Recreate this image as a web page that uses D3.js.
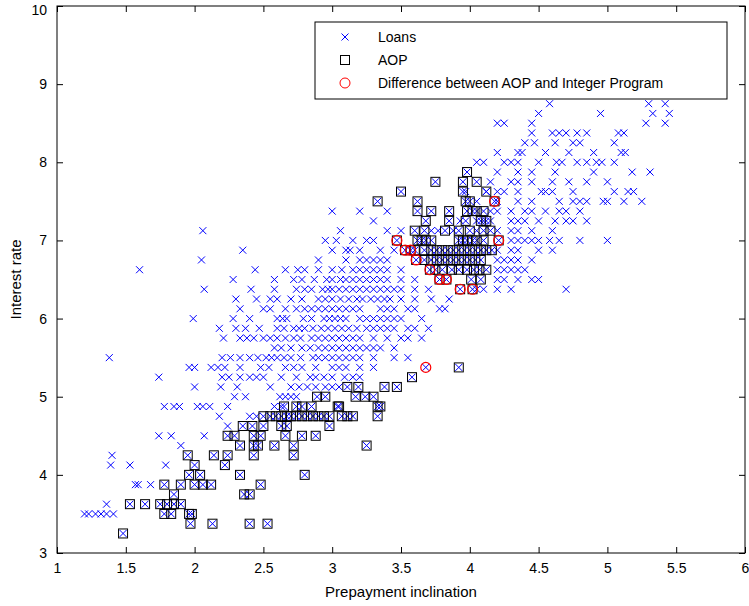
<!DOCTYPE html>
<html><head><meta charset="utf-8">
<script src="https://cdn.jsdelivr.net/npm/d3@7"></script>
<style>body{margin:0;background:#fff}text{font-family:"Liberation Sans",Arial,sans-serif}</style>
</head><body><svg id="c" width="749" height="606"></svg>
<script>
const xTicks = [1,1.5,2,2.5,3,3.5,4,4.5,5,5.5,6];
const yTicks = [3,4,5,6,7,8,9,10];
const legendLabels = ["Loans","AOP","Difference between AOP and Integer Program"];

const loanRates = [8.75,8.625,8.5,8.375,8.25,8.125,8.0,7.875,7.75,7.625,7.5,7.375,7.25,7.125,7.0,6.875,6.75,6.625,6.5,6.375,6.25,6.125,6.0,5.875,5.75,5.625,5.5,5.375,5.25,5.125,5.0,4.875,4.75,4.625,4.5,4.375,4.25,4.125,3.875,3.625,3.5];
const loanX = [
[4.58,5.3,5.42],
[4.5,4.95,5.33,5.45],
[4.2,4.25,4.45,5.28,5.42],
[4.45,4.6,4.65,4.7,4.78,4.85,5.08,5.12],
[4.4,4.47,4.62,4.75,4.8,5.05],
[4.2,4.35,4.38,4.55,4.72,4.9,5.1,5.13],
[4.05,4.1,4.25,4.3,4.35,4.5,4.63,4.67,4.78,4.85,4.92,4.96,5.05],
[4.2,4.35,4.45,4.62,4.9,5.18,5.31],
[4.15,4.3,4.35,4.45,4.6,4.72,4.85,5.0],
[3.97,4.12,4.2,4.25,4.35,4.52,4.55,4.6,4.75,5.05,5.15,5.19],
[4.05,4.2,4.35,4.45,4.65,4.75,4.8,4.85,4.97,5.0,5.12,5.25],
[3.0,3.2,3.4,4.15,4.2,4.3,4.4,4.45,4.55,4.65,4.7,4.8],
[3.3,3.93,4.05,4.1,4.15,4.3,4.35,4.4,4.5,4.62,4.7,4.75,4.85],
[2.06,3.06,3.4,3.5,3.72,3.77,3.88,4.05,4.2,4.3,4.35,4.45,4.6],
[2.95,3.03,3.15,3.25,3.3,4.3,4.35,4.4,4.45,4.5,4.58,4.65,4.8,5.0],
[2.35,3.0,3.1,3.13,3.2,3.35,3.45,4.2,4.3,4.35,4.5,4.6],
[2.05,2.9,3.1,3.2,3.25,3.3,3.35,3.4,4.2,4.25,4.3,4.35,4.45],
[1.6,2.44,2.66,2.75,2.8,2.9,3.0,3.07,3.15,3.2,3.25,3.3,3.35,3.4,3.5,4.2,4.25,4.3,4.35,4.4],
[2.28,2.58,2.72,2.78,2.87,2.96,3.0,3.06,3.1,3.15,3.2,3.25,3.3,3.35,3.4,3.5,3.6,4.2,4.25,4.35,4.45,4.5],
[2.07,2.41,2.58,2.74,2.8,2.85,2.93,2.97,3.0,3.05,3.1,3.15,3.2,3.25,3.3,3.35,3.4,3.45,3.5,3.6,3.7,4.05,4.1,4.2,4.3,4.7],
[2.3,2.45,2.55,2.6,2.7,2.78,2.9,2.95,3.0,3.06,3.12,3.18,3.22,3.28,3.33,3.38,3.42,3.5,3.6,3.72,3.85],
[2.33,2.5,2.55,2.66,2.74,2.8,2.85,2.9,2.95,3.0,3.05,3.1,3.15,3.2,3.35,3.4,3.45,3.55,3.6,3.78,3.82],
[1.99,2.28,2.4,2.6,2.64,2.67,2.79,2.85,2.94,2.98,3.02,3.06,3.1,3.2,3.25,3.3,3.35,3.4,3.45,3.5,3.65],
[2.18,2.3,2.37,2.47,2.6,2.65,2.72,2.76,2.8,2.86,2.92,2.97,3.02,3.07,3.12,3.18,3.25,3.3,3.35,3.4,3.45,3.55,3.6,3.7],
[2.21,2.33,2.38,2.43,2.5,2.55,2.6,2.66,2.72,2.77,2.85,2.9,2.95,3.0,3.05,3.1,3.15,3.2,3.3,3.4,3.5,3.55,3.65],
[2.58,2.63,2.7,2.78,2.84,2.9,2.95,3.0,3.05,3.1,3.15,3.2,3.25,3.3,3.35,3.45],
[1.38,2.2,2.26,2.33,2.4,2.46,2.52,2.56,2.6,2.65,2.7,2.77,2.86,2.9,2.95,3.0,3.05,3.1,3.15,3.2,3.3,3.45,3.55],
[1.96,2.0,2.12,2.17,2.22,2.33,2.48,2.54,2.66,2.72,2.78,2.88,3.0,3.05,3.1,3.2,3.3,3.68],
[1.74,2.2,2.25,2.33,2.4,2.45,2.5,2.63,2.74,2.84,2.88,2.94,3.0,3.09,3.15,3.2],
[2.0,2.19,2.31,2.55,2.7,2.76,2.82,2.88,2.95,3.0,3.05],
[2.29,2.37,2.62,2.66,2.7,2.74],
[1.78,1.85,1.89,2.02,2.06,2.11,2.24,2.58,2.63],
[2.18,2.4,2.45],
[2.24],
[1.74,1.83,2.07],
[1.9],
[1.4],
[1.39,1.53,1.79],
[1.57,1.59,1.68],
[1.36],
[1.2,1.23,1.28,1.32,1.36,1.41]
];

const aopRates = [7.875,7.75,7.625,7.5,7.375,7.25,7.125,7.0,6.875,6.75,6.625,6.5,6.375,5.375,5.25,5.125,5.0,4.875,4.75,4.625,4.5,4.375,4.25,4.125,4.0,3.875,3.75,3.625,3.5,3.375,3.25];
const aopX = [
[3.98],
[3.75,3.95,4.05],
[3.5,3.95,4.12],
[3.33,3.62,3.97,4.0,4.18],
[3.62,3.72,3.85,3.98,4.02,4.05,4.1],
[3.68,3.85,3.97,4.08,4.12],
[3.6,3.67,3.82,3.92,4.0,4.1,4.15],
[3.47,3.62,3.65,3.68,3.72,3.92,3.95,3.98,4.02,4.05,4.1,4.21],
[3.53,3.57,3.6,3.67,3.72,3.76,3.8,3.84,3.88,3.92,3.96,4.0,4.04,4.08,4.12,4.16],
[3.61,3.67,3.72,3.76,3.8,3.84,3.88,3.92,3.96,4.0,4.04,4.08],
[3.71,3.75,3.8,3.87,3.92,3.98,4.03,4.07,4.12],
[3.78,3.83,4.01,4.08],
[3.93,4.02],
[3.92],
[3.58],
[3.11,3.19,3.38,3.47],
[2.89,2.95,3.17,3.24,3.3],
[2.65,2.74,2.78,2.85,3.04,3.05,3.33,3.35],
[2.5,2.55,2.59,2.63,2.67,2.7,2.74,2.78,2.82,2.86,2.9,2.94,2.98,3.07,3.11,3.15,3.33],
[2.35,2.42,2.5,2.63,2.67,2.98],
[2.24,2.29,2.43,2.48,2.66,2.78,2.88],
[2.33,2.43,2.46,2.58,2.72,3.25],
[1.95,2.14,2.24,2.43,2.72],
[2.0,2.22],
[1.96,2.04,2.33,2.8],
[1.78,1.9,2.0,2.06,2.12,2.48],
[1.85,2.36,2.4],
[1.53,1.64,1.75,1.8,1.85,1.9],
[1.78,1.83,1.96,1.98],
[1.97,2.13,2.4,2.53],
[1.48]
];

const diffX = [3.47,3.53,3.57,3.61,3.71,3.78,3.83,3.93,4.02,4.18,4.21,3.68];
const diffY = [7.0,6.875,6.875,6.75,6.625,6.5,6.5,6.375,6.375,7.5,7.0,5.375];

const W=749,H=606,m={l:57,t:6,r:4,b:53};
const svg=d3.select("#c");
const x=d3.scaleLinear().domain([1,6]).range([m.l,W-m.r]);
const y=d3.scaleLinear().domain([3,10]).range([H-m.b,m.t]);

const loans=[];loanRates.forEach((r,i)=>loanX[i].forEach(v=>loans.push([v,r])));
const aop=[];aopRates.forEach((r,i)=>aopX[i].forEach(v=>aop.push([v,r])));
const diff=diffX.map((v,i)=>[v,diffY[i]]);

const g=svg.append("g");
const cross=(sel,d,s,col)=>sel.append("path").attr("d",`M${x(d[0])-s},${y(d[1])-s}L${x(d[0])+s},${y(d[1])+s}M${x(d[0])-s},${y(d[1])+s}L${x(d[0])+s},${y(d[1])-s}`).attr("stroke",col).attr("stroke-width",1).attr("fill","none");
loans.concat(aop).forEach(d=>cross(g,d,3.5,"#0000ff"));
g.selectAll("rect.a").data(aop).join("rect").attr("x",d=>x(d[0])-4.5).attr("y",d=>y(d[1])-4.5).attr("width",9).attr("height",9).attr("fill","none").attr("stroke","#000").attr("stroke-width",1);
g.selectAll("circle.d").data(diff).join("circle").attr("cx",d=>x(d[0])).attr("cy",d=>y(d[1])).attr("r",5).attr("fill","none").attr("stroke","#ff0000").attr("stroke-width",1.2);

svg.append("rect").attr("x",m.l).attr("y",m.t).attr("width",W-m.r-m.l).attr("height",H-m.b-m.t).attr("fill","none").attr("stroke","#000");
const fmt=d3.format("");
const xa=svg.append("g").attr("transform",`translate(0,${H-m.b})`).call(d3.axisBottom(x).tickValues(xTicks).tickSizeInner(-6).tickSizeOuter(0).tickPadding(10).tickFormat(fmt));
const xt=svg.append("g").attr("transform",`translate(0,${m.t})`).call(d3.axisTop(x).tickValues(xTicks).tickSizeInner(-6).tickSizeOuter(0).tickFormat(""));
const ya=svg.append("g").attr("transform",`translate(${m.l},0)`).call(d3.axisLeft(y).tickValues(yTicks).tickSizeInner(-6).tickSizeOuter(0).tickPadding(10).tickFormat(fmt));
const yr=svg.append("g").attr("transform",`translate(${W-m.r},0)`).call(d3.axisRight(y).tickValues(yTicks).tickSizeInner(-6).tickSizeOuter(0).tickFormat(""));
[xa,xt,ya,yr].forEach(a=>{a.select(".domain").remove();a.selectAll("text").attr("font-size",14).attr("fill","#000").style("font-family","Liberation Sans, Arial");});
ya.selectAll(".tick").filter(d=>d===10).select("text").attr("dy","0.6em");

svg.append("text").attr("x",(m.l+W-m.r)/2).attr("y",597).attr("text-anchor","middle").attr("font-size",15).text("Prepayment inclination");
svg.append("text").attr("transform",`translate(21,${(m.t+H-m.b)/2}) rotate(-90)`).attr("text-anchor","middle").attr("font-size",15).text("Interest rate");

const lg=svg.append("g");
lg.append("rect").attr("x",315).attr("y",22).attr("width",412).attr("height",77).attr("fill","#fff").attr("stroke","#000");
const ly=[37,60,83];
cross(lg,[x.invert(345),y.invert(ly[0])],3.5,"#0000ff");
lg.append("rect").attr("x",340.5).attr("y",ly[1]-4.5).attr("width",9).attr("height",9).attr("fill","none").attr("stroke","#000");
lg.append("circle").attr("cx",345).attr("cy",ly[2]).attr("r",5).attr("fill","none").attr("stroke","#ff0000");
legendLabels.forEach((t,i)=>lg.append("text").attr("x",378).attr("y",ly[i]+5).attr("font-size",14).text(t));
</script></body></html>
